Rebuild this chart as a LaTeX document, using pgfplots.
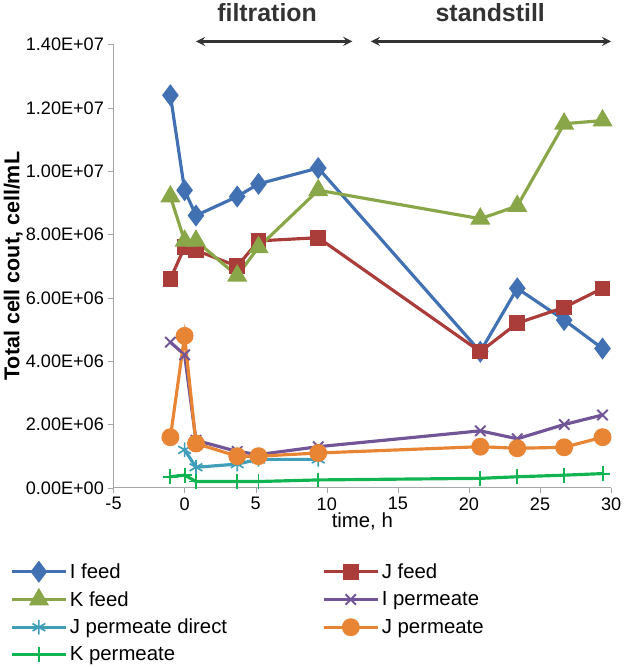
\documentclass[border=0pt]{standalone}
\usepackage{pgfplots}
\pgfplotsset{compat=1.18}
\usepackage{fontspec}
\setmainfont{Liberation Sans}
\begin{document}
\begin{tikzpicture}
\begin{axis}[
 scale only axis, width=440pt, height=392pt,
 xmin=-5, xmax=30, ymin=0, ymax=1.4e7,
 axis lines*=left, axis line style={gray!70,line width=1pt},
 tick style={gray!70}, tick align=outside, major tick length=5pt,
 xtick={-5,0,...,30}, ytick={0,2e6,4e6,6e6,8e6,1e7,1.2e7,1.4e7},
 yticklabels={0.00E+00,2.00E+06,4.00E+06,6.00E+06,8.00E+06,1.00E+07,1.20E+07,1.40E+07},
 scaled y ticks=false,
 /pgf/number format/assume math mode=true,
 ticklabel style={font=\fontsize{16}{18}\selectfont},
 xlabel={time, h}, ylabel={\textbf{Total cell cout, cell/mL}},
 xlabel style={font=\fontsize{18}{20}\selectfont, yshift=5pt},
 ylabel style={font=\fontsize{19}{21}\selectfont, yshift=-4pt},
 clip=false,
 every axis plot/.append style={line width=2.8pt},
 legend columns=2,
 legend style={draw=none, at={(-0.215,-0.16)}, anchor=north west, font=\fontsize{18}{20}\selectfont,
   /tikz/every even column/.append style={column sep=82pt}, row sep=6pt},
 legend cell align=left,
 legend image code/.code={\draw[#1,line width=2.8pt] (0pt,0pt) -- (24pt,0pt) -- (48pt,0pt); \path[#1,draw=none] plot coordinates {(24pt,0pt)};},
]
\addplot[color={rgb,255:red,65;green,113;blue,178}, mark=diamond*, mark size=7.5pt] coordinates {(-1,1.24e7)(0,9.4e6)(0.8,8.6e6)(3.7,9.2e6)(5.2,9.6e6)(9.4,1.01e7)(20.8,4.3e6)(23.4,6.3e6)(26.7,5.3e6)(29.4,4.4e6)};
\addlegendentry{I feed}
\addplot[color={rgb,255:red,170;green,60;blue,58}, mark=square*, mark size=5.5pt] coordinates {(-1,6.6e6)(0,7.6e6)(0.8,7.5e6)(3.7,7.0e6)(5.2,7.8e6)(9.4,7.9e6)(20.8,4.3e6)(23.4,5.2e6)(26.7,5.7e6)(29.4,6.3e6)};
\addlegendentry{J feed}
\addplot[color={rgb,255:red,137;green,167;blue,72}, mark=triangle*, mark size=7.5pt] coordinates {(-1,9.2e6)(0,7.8e6)(0.8,7.8e6)(3.7,6.7e6)(5.2,7.6e6)(9.4,9.4e6)(20.8,8.5e6)(23.4,8.9e6)(26.7,1.15e7)(29.4,1.16e7)};
\addlegendentry{K feed}
\addplot[color={rgb,255:red,113;green,85;blue,150}, mark=x, mark size=6.5pt, mark options={line width=1.7pt}] coordinates {(-1,4.6e6)(0,4.2e6)(0.8,1.5e6)(3.7,1.15e6)(5.2,1.05e6)(9.4,1.3e6)(20.8,1.8e6)(23.4,1.55e6)(26.7,2.0e6)(29.4,2.3e6)};
\addlegendentry{I permeate}
\addplot[color={rgb,255:red,64;green,158;blue,185}, mark=asterisk, mark size=6.5pt, mark options={line width=1.5pt}] coordinates {(0,1.2e6)(0.8,6.5e5)(3.7,7.5e5)(5.2,9e5)(9.4,9e5)};
\addlegendentry{J permeate direct}
\addplot[color={rgb,255:red,232;green,133;blue,52}, mark=*, mark size=6.5pt] coordinates {(-1,1.6e6)(0,4.8e6)(0.8,1.4e6)(3.7,1.0e6)(5.2,1.0e6)(9.4,1.1e6)(20.8,1.3e6)(23.4,1.25e6)(26.7,1.28e6)(29.4,1.6e6)};
\addlegendentry{J permeate}
\addplot[color={rgb,255:red,16;green,180;blue,80}, mark=+, mark size=6.5pt, mark options={line width=1.7pt}] coordinates {(-1,3.5e5)(0,4e5)(0.8,2e5)(3.7,2e5)(5.2,2e5)(9.4,2.5e5)(20.8,3e5)(23.4,3.5e5)(26.7,4e5)(29.4,4.5e5)};
\addlegendentry{K permeate}
\draw[<->, line width=2.5pt, >=stealth, color=black!80] (axis cs:0.8,1.41e7) -- (axis cs:11.8,1.41e7);
\draw[<->, line width=2.5pt, >=stealth, color=black!80] (axis cs:13.1,1.41e7) -- (axis cs:30,1.41e7);
\node[font=\fontsize{22}{24}\selectfont\bfseries, color=black!80] at (axis cs:5.8,1.5e7) {filtration};
\node[font=\fontsize{22}{24}\selectfont\bfseries, color=black!80] at (axis cs:21.5,1.5e7) {standstill};
\end{axis}
\end{tikzpicture}
\end{document}
